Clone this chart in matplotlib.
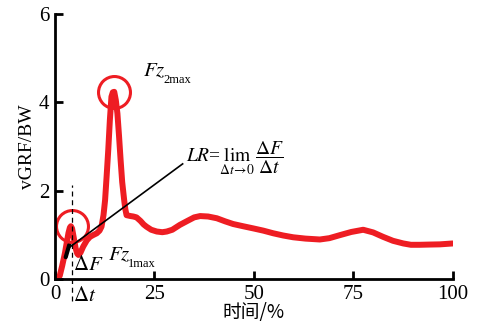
import matplotlib
matplotlib.use('Agg')
import matplotlib.pyplot as plt

plt.rcParams['font.family'] = ['Liberation Serif', 'DejaVu Serif']
plt.rcParams['mathtext.fontset'] = 'stix'

# vGRF curve (time %, vGRF/BW)
t = [0.5, 1.2, 1.8, 2.5, 3.0, 3.4, 3.75, 4.0, 4.3, 4.7, 5.2, 5.6, 5.9, 6.4,
     7.1, 8.0, 8.8, 9.6, 10.5, 11.2, 11.7, 12.2, 12.6, 13.0, 13.4, 13.8,
     14.2, 14.55, 14.9, 15.3, 15.7, 16.1, 16.5, 16.9, 17.4, 17.7, 18.0,
     19.0, 19.7, 20.5, 21.5, 22.3, 23.0, 24.2, 25.6, 27.0, 28.1, 29.5,
     31.4, 33.5, 35.0, 36.5, 38.5, 40.7, 42.8, 44.8, 47.3, 49.9, 52.4,
     54.9, 57.4, 59.9, 63.0, 66.6, 69.0, 71.7, 74.5, 77.5, 80.0, 82.5,
     85.0, 87.6, 89.5, 91.7, 94.0, 96.8, 100.0]
f = [0.0, 0.08, 0.3, 0.59, 0.85, 1.05, 1.17, 1.2, 1.15, 0.95, 0.7, 0.58,
     0.55, 0.6, 0.74, 0.88, 0.96, 1.0, 1.04, 1.1, 1.19, 1.45, 1.79, 2.35,
     2.93, 3.6, 4.13, 4.23, 4.24, 4.05, 3.75, 3.25, 2.7, 2.2, 1.79, 1.58,
     1.45, 1.43, 1.42, 1.4, 1.32, 1.24, 1.19, 1.12, 1.08, 1.065, 1.08,
     1.12, 1.23, 1.33, 1.4, 1.43, 1.42, 1.38, 1.31, 1.25, 1.2, 1.15, 1.1,
     1.04, 0.99, 0.95, 0.92, 0.9, 0.93, 1.0, 1.07, 1.12, 1.06, 0.96,
     0.87, 0.81, 0.78, 0.78, 0.785, 0.79, 0.81]

# loading-rate segment and peaks
seg_t = [2.7, 3.6]
seg_f = [0.5, 0.78]
peak1 = (4.27, 1.21)
peak2 = (14.8, 4.23)
dt_x = 4.2

xticks = [0, 25, 50, 75, 100]
yticks = [0, 2, 4, 6]

fig = plt.figure(figsize=(4.81, 3.26), dpi=100)
ax = fig.add_axes([0.1143, 0.1433, 0.8268, 0.8138])

red = '#ee1d23'
ax.plot(t, f, color=red, lw=4.3, solid_capstyle='round', solid_joinstyle='round')
ax.plot(seg_t, seg_f, color='black', lw=3, solid_capstyle='round')

# circles around peaks
ax.plot(*peak1, 'o', ms=23, mfc='none', mec=red, mew=2.2)
ax.plot(*peak2, 'o', ms=23, mfc='none', mec=red, mew=2.2)

# dashed delta-t line
ax.plot([dt_x, dt_x], [-0.5, 2.13], color='black', lw=0.9, ls=(0, (4, 3)), clip_on=False)

# LR pointer line
ax.plot([3.6, 32.1], [0.72, 2.61], color='black', lw=1.2)

ax.text(33.0, 2.74, r'$LR$=$\lim_{\Delta t \to 0}\,\dfrac{\Delta F}{\Delta t}$',
        fontsize=14, va='center', ha='left')

# Fz labels: italic symbol plus small lowered subscript
ax.text(22.1, 4.58, r'$Fz$', fontsize=15, ha='left', va='baseline')
ax.text(27.2, 4.44, '2max', fontsize=9, ha='left', va='baseline')
ax.text(13.3, 0.44, r'$Fz$', fontsize=15, ha='left', va='baseline')
ax.text(18.4, 0.28, '1max', fontsize=9, ha='left', va='baseline')

ax.text(4.5, 0.2, r'$\Delta F$', fontsize=15, ha='left', va='baseline')
ax.text(4.5, -0.5, r'$\Delta t$', fontsize=15, ha='left', va='baseline')

ax.set_xlim(0, 100)
ax.set_ylim(0, 6)
ax.set_xticks(xticks)
ax.set_yticks(yticks)
ax.tick_params(direction='in', length=5.5, width=2, labelsize=15, pad=4)
for s in ['top', 'right']:
    ax.spines[s].set_visible(False)
for s in ['left', 'bottom']:
    ax.spines[s].set_linewidth(2)

ax.set_ylabel('vGRF/BW', fontsize=14, labelpad=2)
ax.set_xlabel('时间/%', fontsize=13.5, labelpad=-1,
              family=['Noto Sans CJK SC', 'DejaVu Sans'])

fig.savefig('out.png', dpi=100)
